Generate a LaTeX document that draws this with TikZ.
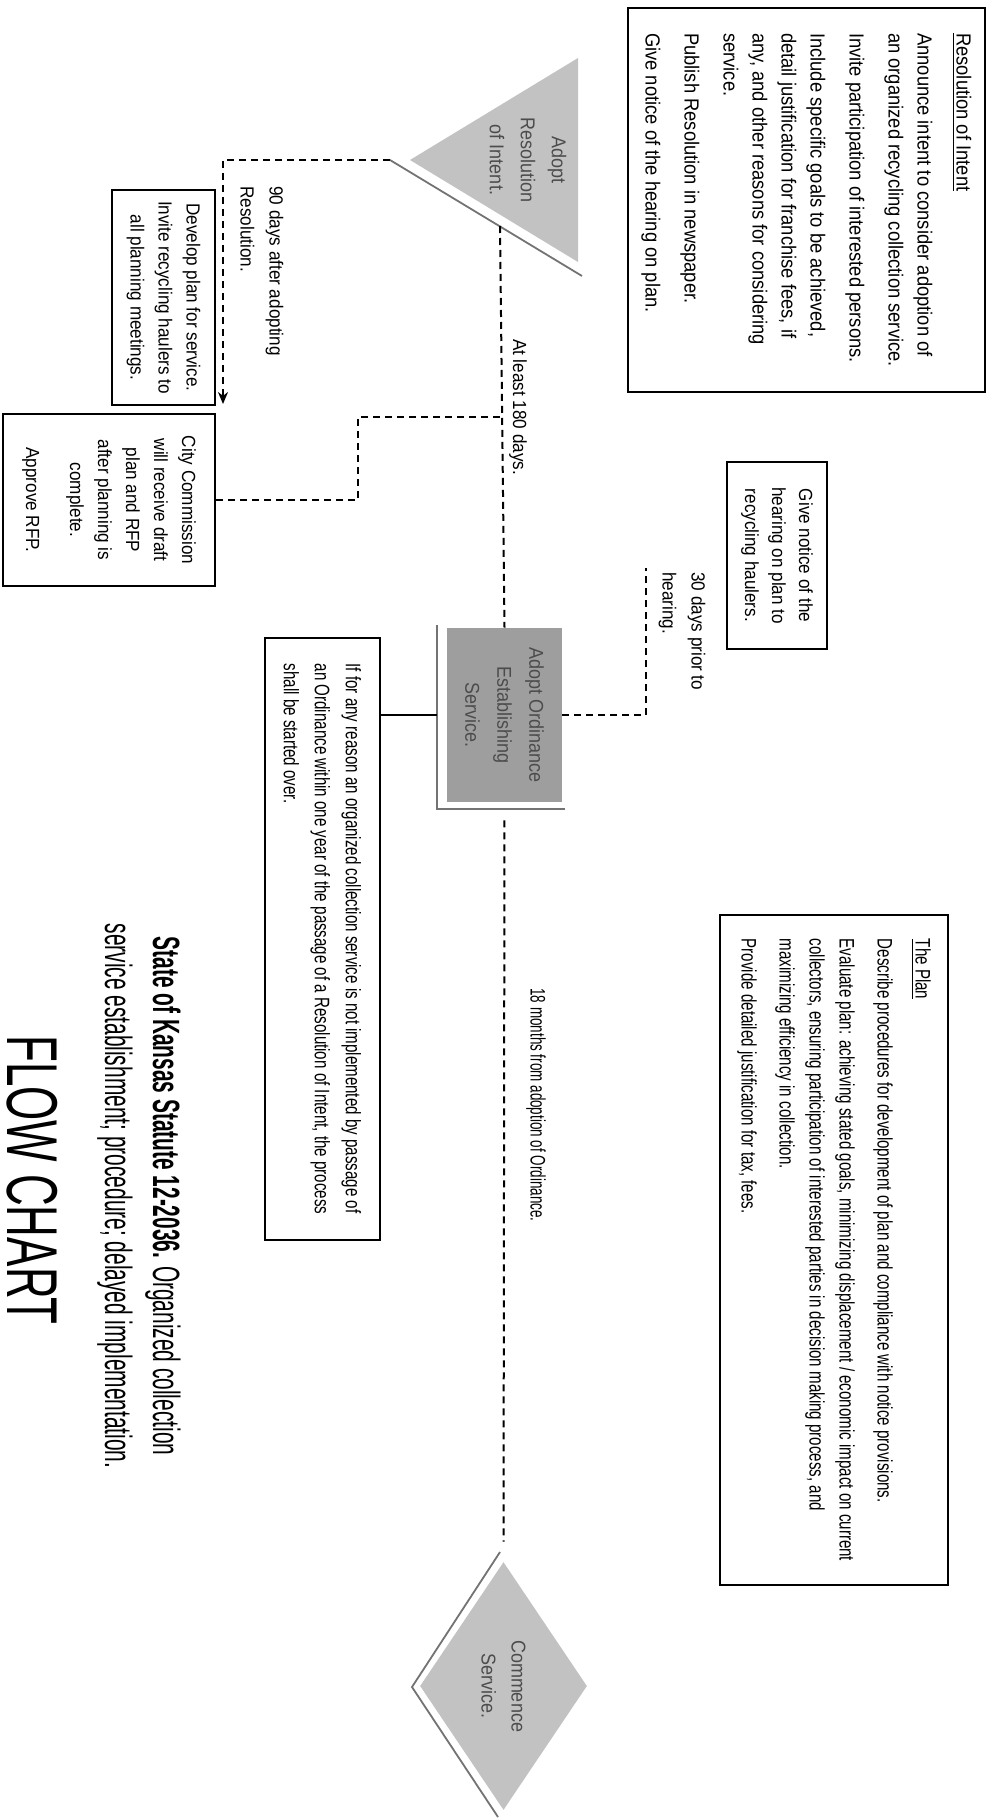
\documentclass[tikz,border=0pt]{standalone}
\usepackage{fontspec}
\setmainfont{Liberation Sans}
\newfontfamily\bodyfont{Liberation Sans}[FakeStretch=0.9]
\newfontfamily\narrowfont{Liberation Sans}[FakeStretch=0.72]
\newfontfamily\condfont{Liberation Sans}[FakeStretch=0.64]
\newfontfamily\titlefont{Liberation Sans}[FakeStretch=0.55]
\newfontfamily\flowfont{Liberation Sans}[FakeStretch=0.61]
\usepackage{tikz}
\usetikzlibrary{positioning}
\usetikzlibrary{shapes.geometric}
\usetikzlibrary{arrows.meta}
\tikzset{
    textbox/.style = {rectangle, draw=black, line width=0.9pt, inner sep=0pt, align=center, font=\bodyfont\fontsize{9.5}{14}\selectfont},
    notebox/.style = {rectangle, draw=black, line width=0.9pt, inner sep=0pt, align=left},
    plaintext/.style = {inner sep=0pt, align=left, font=\bodyfont\fontsize{9.5}{14.5}\selectfont},
    shapetext/.style = {inner sep=0pt, align=center, text=black!70, font=\bodyfont\fontsize{10}{15.5}\selectfont},
}
\begin{document}
\begin{tikzpicture}[
	x=0.5pt, y=0.5pt,
	rotate=-90,
	transform shape
]
\tikzset{
    dashline/.style = {line width=1pt, dash pattern=on 3.5pt off 2.5pt},
    solidline/.style = {line width=1pt},
    shadowline/.style = {draw=black!55, line width=0.9pt},
    lightfill/.style = {fill=black!24},
    darkfill/.style = {fill=black!38},
}
\useasboundingbox (0,0) rectangle (1819,990);
%
\node[notebox, minimum width=192pt, minimum height=178.5pt,
      font=\bodyfont\fontsize{10.2}{14.5}\selectfont] at (200,806.5) (resbox) {\underline{Resolution of Intent}\\[5pt]
Announce intent to consider adoption of\\
an organized recycling collection service.\\[5pt]
Invite participation of interested persons.\\[5pt]
Include specific goals to be achieved,\\
detail justification for franchise fees, if\\
any, and other reasons for considering\\
service.\\[5pt]
Publish Resolution in newspaper.\\[5pt]
Give notice of the hearing on plan.};
%
\fill[lightfill] (160,410) -- (58,578) -- (262,578) -- cycle;
\draw[shadowline] (160,390) -- (276,582);
\node[shapetext] at (160,528) (adoptres) {Adopt\\Resolution\\of Intent.};
\coordinate (triapex) at (160,390);
\coordinate (treedge) at (226,500);
%
\node[plaintext] at (186,262) [anchor=west] (days90) {90 days after adopting\\Resolution.};
\node[textbox, minimum width=107.5pt, minimum height=51.5pt] at (297.5,163.5) (devbox) {Develop plan for service.\\Invite recycling haulers to\\all planning meetings.};
\node[textbox, minimum width=86pt, minimum height=106pt] at (500,109) (ccbox) {City Commission\\will receive draft\\plan and RFP\\after planning is\\complete.\\[8pt]Approve RFP.};
\coordinate (d90corner) at (160,223);
\coordinate (d90end) at (404,223);
%
\node[plaintext] at (407,518) (days180) {At least 180 days.};
\coordinate (branch) at (417,500);
\coordinate (bend1) at (417,358);
\coordinate (bend2) at (500,358);
%
\node[textbox, minimum width=93.5pt, minimum height=50pt, font=\bodyfont\fontsize{9.5}{13.5}\selectfont] at (555.5,777) (notebox) {Give notice of the\\hearing on plan to\\recycling haulers.};
\node[plaintext] at (572,682) [anchor=west] (days30) {30 days prior to\\hearing.};
%
\node[darkfill, shapetext, minimum width=87pt, minimum height=57.5pt, font=\bodyfont\fontsize{10}{16}\selectfont] at (715,504.5) (ordbox) {Adopt Ordinance\\Establishing\\Service.};
\draw[shadowline] (625,437) -- (809,437) -- (809,565);
\coordinate (ntcorner) at (715,646);
\coordinate (ntend) at (568,646);
\coordinate (ordlow) at (715,437);
\coordinate (iftop) at (715,380);
%
\node[notebox, minimum width=301pt, minimum height=57.5pt,
      font=\narrowfont\fontsize{10.5}{15.5}\selectfont] at (939,322.5) (ifbox) {If for any reason an organized collection service is not implemented by passage of\\
an Ordinance within one year of the passage of a Resolution of Intent, the process\\
shall be started over.};
%
\node[notebox, minimum width=335pt, minimum height=114pt,
      font=\narrowfont\fontsize{10.5}{15}\selectfont] at (1250,834) (planbox) {\underline{The Plan}\\[4pt]
Describe procedures for development of plan and compliance with notice provisions.\\[4pt]
Evaluate plan: achieving stated goals, minimizing displacement / economic impact on current\\
collectors, ensuring participation of interested parties in decision making process, and\\
maximizing efficiency in collection.\\[4pt]
Provide detailed justification for tax, fees.};
%
\node[plaintext, font=\condfont\fontsize{10.5}{14}\selectfont] at (1105,536) (months18) {18 months from adoption of Ordinance.};
%
\node[diamond, lightfill, shapetext, minimum width=124pt, minimum height=83.5pt, font=\bodyfont\fontsize{10}{15}\selectfont] at (1686,503.5) (commence) {Commence\\Service.};
\draw[shadowline] (1552,500) -- (1687,412) -- (1817,498);
%
\node[inner sep=0pt, align=center, font=\titlefont\fontsize{19}{24}\selectfont] at (1196,139) (statute) {\textbf{State of Kansas Statute 12-2036.} Organized collection\\service establishment; procedure; delayed implementation.};
\node[inner sep=0pt, font=\flowfont\fontsize{36}{40}\selectfont] at (1180,32) (flowchart) {FLOW CHART};
%
\draw[dashline] (treedge) -- (ordbox.west);
\draw[dashline, shorten <=9pt, shorten >=10pt] (ordbox.east) -- (commence.west);
\draw[dashline, -{Stealth[length=6pt,width=5pt]}] (triapex) -- (d90corner) -- (d90end);
\draw[dashline] (branch) -- (bend1) -- (bend2) -- (ccbox.north);
\draw[dashline] (ordbox.north) -- (ntcorner) -- (ntend);
\draw[solidline] (ordlow) -- (iftop);
\end{tikzpicture}
\end{document}
